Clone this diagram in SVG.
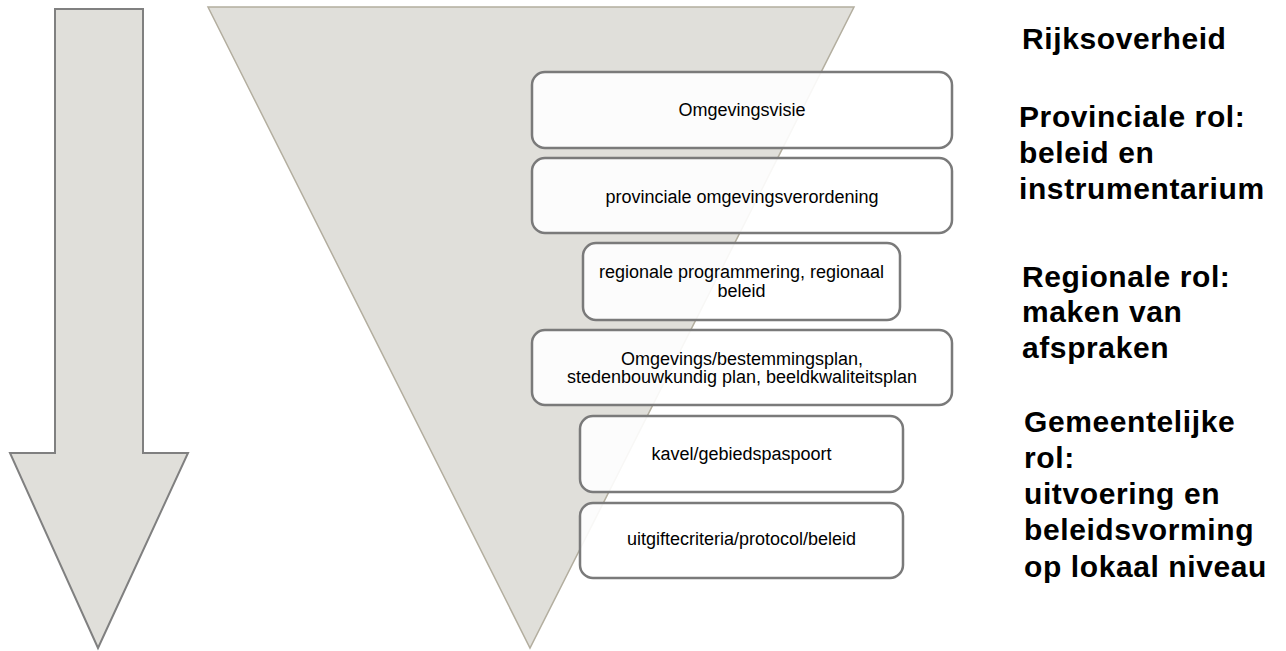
<svg xmlns="http://www.w3.org/2000/svg" width="1286" height="651" viewBox="0 0 1286 651">
<style>
.shape{fill:#e0dfda}
.box{fill:#ffffff;fill-opacity:0.9;stroke:#7a7a7a;stroke-width:2.5}
.bt{font-family:"Liberation Sans",Arial,sans-serif;font-size:18px;fill:#000;text-anchor:middle}
.rt{font-family:"Liberation Sans",Arial,sans-serif;font-size:30px;font-weight:bold;fill:#000;letter-spacing:0.6px}
</style>
<rect width="1286" height="651" fill="#ffffff"/>
<g id="arrow">
<polygon class="shape" stroke="#808080" stroke-width="2" points="55,9 143,9 143,453 188,453 98,648 10,453 55,453"/>
</g>
<g id="funnel">
<polygon class="shape" stroke="#b3ae9f" stroke-width="1.5" points="208,7 854,7 530,648"/>
</g>
<g id="connectors"></g>
<g id="n1">
<rect class="box" x="532" y="72" width="420" height="76" rx="13"/>
<text class="bt" x="742" y="116">Omgevingsvisie</text>
</g>
<g id="n2">
<rect class="box" x="532" y="158" width="420" height="75" rx="13"/>
<text class="bt" x="742" y="203">provinciale omgevingsverordening</text>
</g>
<g id="n3">
<rect class="box" x="583" y="243" width="317" height="77" rx="13"/>
<text class="bt" x="741.5" y="278">regionale programmering, regionaal</text>
<text class="bt" x="741.5" y="297">beleid</text>
</g>
<g id="n4">
<rect class="box" x="532" y="330" width="420" height="75" rx="13"/>
<text class="bt" x="742" y="365">Omgevings/bestemmingsplan,</text>
<text class="bt" x="742" y="383">stedenbouwkundig plan, beeldkwaliteitsplan</text>
</g>
<g id="n5">
<rect class="box" x="580" y="416" width="323" height="76" rx="13"/>
<text class="bt" x="741.5" y="460">kavel/gebiedspaspoort</text>
</g>
<g id="n6">
<rect class="box" x="580" y="503" width="323" height="75" rx="13"/>
<text class="bt" x="741.5" y="545">uitgiftecriteria/protocol/beleid</text>
</g>
<g id="label-rijk">
<text class="rt" x="1022" y="49">Rijksoverheid</text>
</g>
<g id="label-provincie">
<text class="rt" x="1019" y="127">Provinciale rol:</text>
<text class="rt" x="1019" y="163">beleid en</text>
<text class="rt" x="1019" y="199">instrumentarium</text>
</g>
<g id="label-regio">
<text class="rt" x="1022" y="287">Regionale rol:</text>
<text class="rt" x="1022" y="322">maken van</text>
<text class="rt" x="1022" y="358">afspraken</text>
</g>
<g id="label-gemeente">
<text class="rt" x="1024" y="432">Gemeentelijke</text>
<text class="rt" x="1024" y="468">rol:</text>
<text class="rt" x="1024" y="504">uitvoering en</text>
<text class="rt" x="1024" y="540">beleidsvorming</text>
<text class="rt" x="1024" y="577">op lokaal niveau</text>
</g>
</svg>
